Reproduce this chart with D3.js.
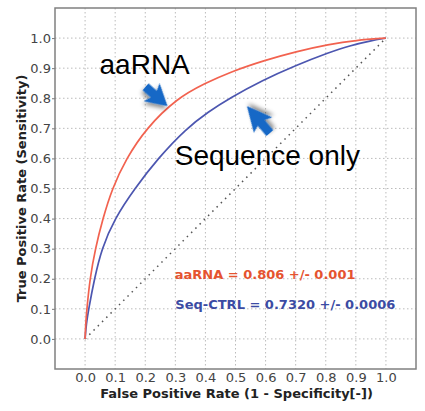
<!DOCTYPE html>
<html>
<head>
<meta charset="utf-8">
<script src="https://cdn.jsdelivr.net/npm/d3@7"></script>
<style>
  body { margin: 0; background: #fff; }
  text { font-family: 'DejaVu Sans', sans-serif; }
</style>
</head>
<body>
<div id="chart"></div>
<script>
// ROC curves
const aaRnaFpr = [0, 0.002, 0.006, 0.016, 0.034, 0.059, 0.09, 0.137, 0.203, 0.305, 0.40, 0.481, 0.60, 0.70, 0.81, 0.90, 1.0];
const aaRnaTpr = [0, 0.05, 0.1, 0.2, 0.3, 0.4, 0.5, 0.6, 0.7, 0.8, 0.85, 0.887, 0.927, 0.955, 0.979, 0.993, 1.0];
const seqFpr = [0, 0.004, 0.012, 0.031, 0.055, 0.098, 0.165, 0.242, 0.337, 0.41, 0.48, 0.59, 0.70, 0.81, 0.88, 0.95, 1.0];
const seqTpr = [0, 0.05, 0.1, 0.2, 0.3, 0.4, 0.5, 0.6, 0.7, 0.755, 0.80, 0.86, 0.909, 0.952, 0.975, 0.991, 1.0];
const chanceLine = [0, 1];
const tickValues = [0, 0.1, 0.2, 0.3, 0.4, 0.5, 0.6, 0.7, 0.8, 0.9, 1.0];
const aucLabels = ['aaRNA = 0.806 +/- 0.001', 'Seq-CTRL = 0.7320 +/- 0.0006'];
const curveNames = ['aaRNA', 'Sequence only'];

const margin = {
  top: 8,
  right: 9,
  bottom: 42,
  left: 55,
};
const width = 425 - margin.left - margin.right;
const height = 411 - margin.top - margin.bottom;

const x = d3.scaleLinear().domain([-0.1, 1.1]).range([0, width]);
const y = d3.scaleLinear().domain([-0.1, 1.1]).range([height, 0]);

const svg = d3.select('#chart').append('svg')
  .attr('width', 425)
  .attr('height', 411)
  .append('g')
  .attr('transform', `translate(${margin.left},${margin.top})`);

const defs = svg.append('defs');
defs.append('filter')
  .attr('id', 'shadow')
  .attr('x', '-50%').attr('y', '-50%')
  .attr('width', '200%').attr('height', '200%')
  .append('feDropShadow')
  .attr('dx', 1).attr('dy', 3)
  .attr('stdDeviation', 2)
  .attr('flood-color', '#000')
  .attr('flood-opacity', 0.45);

// grid
svg.append('g')
  .selectAll('line')
  .data(tickValues)
  .join('line')
  .attr('x1', d => x(d)).attr('x2', d => x(d))
  .attr('y1', 0).attr('y2', height)
  .attr('stroke', '#bbb')
  .attr('stroke-dasharray', '1.5,2.5');

svg.append('g')
  .selectAll('line')
  .data(tickValues)
  .join('line')
  .attr('y1', d => y(d)).attr('y2', d => y(d))
  .attr('x1', 0).attr('x2', width)
  .attr('stroke', '#bbb')
  .attr('stroke-dasharray', '1.5,2.5');

// chance diagonal
svg.append('line')
  .attr('x1', x(chanceLine[0])).attr('y1', y(chanceLine[0]))
  .attr('x2', x(chanceLine[1])).attr('y2', y(chanceLine[1]))
  .attr('stroke', '#555')
  .attr('stroke-width', 1.5)
  .attr('stroke-dasharray', '1.5,4.5');

const line = d3.line()
  .x(d => x(d[0]))
  .y(d => y(d[1]))
  .curve(d3.curveBasis);

svg.append('path')
  .datum(seqFpr.map((f, i) => [f, seqTpr[i]]))
  .attr('fill', 'none')
  .attr('stroke', '#4c56b0')
  .attr('stroke-width', 1.7)
  .attr('d', line);

svg.append('path')
  .datum(aaRnaFpr.map((f, i) => [f, aaRnaTpr[i]]))
  .attr('fill', 'none')
  .attr('stroke', '#f2624f')
  .attr('stroke-width', 1.7)
  .attr('d', line);

// axes
const yAxis = svg.append('g')
  .call(d3.axisLeft(y).tickValues(tickValues).tickFormat(d3.format('.1f'))
    .tickSize(3).tickPadding(1));
yAxis.select('.domain').remove();
yAxis.selectAll('line').attr('stroke', '#777');
yAxis.selectAll('text')
  .attr('fill', '#444')
  .style('font-size', '13px');

const xAxis = svg.append('g')
  .attr('transform', `translate(0,${height})`)
  .call(d3.axisBottom(x).tickValues(tickValues).tickFormat(d3.format('.1f'))
    .tickSize(0).tickPadding(4));
xAxis.select('.domain').remove();
xAxis.selectAll('text')
  .attr('fill', '#444')
  .style('font-size', '13px');

// frame
svg.append('rect')
  .attr('width', width)
  .attr('height', height)
  .attr('fill', 'none')
  .attr('stroke', '#808080')
  .attr('stroke-width', 1.5);

svg.append('text')
  .attr('x', width / 2 + 1)
  .attr('y', height + 29)
  .attr('text-anchor', 'middle')
  .attr('font-weight', 'bold')
  .style('font-size', '13px')
  .attr('fill', '#222')
  .text('False Positive Rate (1 - Specificity[-])');

svg.append('text')
  .attr('transform', `translate(${26 - margin.left},${height / 2}) rotate(-90)`)
  .attr('text-anchor', 'middle')
  .attr('font-weight', 'bold')
  .style('font-size', '13px')
  .attr('fill', '#222')
  .text('True Positive Rate (Sensitivity)');

// AUC text
svg.append('text')
  .attr('x', x(0.298)).attr('y', y(0.198))
  .attr('font-weight', 'bold')
  .style('font-size', '13px')
  .attr('fill', '#e5532f')
  .text(aucLabels[0]);

svg.append('text')
  .attr('x', x(0.3)).attr('y', y(0.099))
  .attr('font-weight', 'bold')
  .style('font-size', '13px')
  .attr('fill', '#3b4ba3')
  .text(aucLabels[1]);

// callouts
svg.append('text')
  .attr('x', x(0.048)).attr('y', y(0.881))
  .style('font-family', "'Liberation Sans', Arial, sans-serif")
  .style('font-size', '28px')
  .attr('fill', '#000')
  .text(curveNames[0]);

svg.append('text')
  .attr('x', x(0.298)).attr('y', y(0.578))
  .style('font-family', "'Liberation Sans', Arial, sans-serif")
  .style('font-size', '28px')
  .attr('fill', '#000')
  .text(curveNames[1]);

const arrow = (from, to) => {
  const x0 = x(from[0]);
  const y0 = y(from[1]);
  const dx = x(to[0]) - x0;
  const dy = y(to[1]) - y0;
  const len = Math.sqrt(dx * dx + dy * dy);
  const ang = Math.atan2(dy, dx) * 180 / Math.PI;
  const hl = len * 0.62;
  const pts = [[0, -4.5], [len - hl, -4.5], [len - hl - 3, -12], [len, 0], [len - hl - 3, 12], [len - hl, 4.5], [0, 4.5]];
  svg.append('polygon')
    .attr('points', pts.map(p => p.join(',')).join(' '))
    .attr('transform', `translate(${x0},${y0}) rotate(${ang})`)
    .attr('fill', '#1668c6')
    .attr('filter', 'url(#shadow)');
};

arrow([0.201, 0.838], [0.274, 0.774]);
arrow([0.614, 0.684], [0.538, 0.774]);
</script>
</body>
</html>
